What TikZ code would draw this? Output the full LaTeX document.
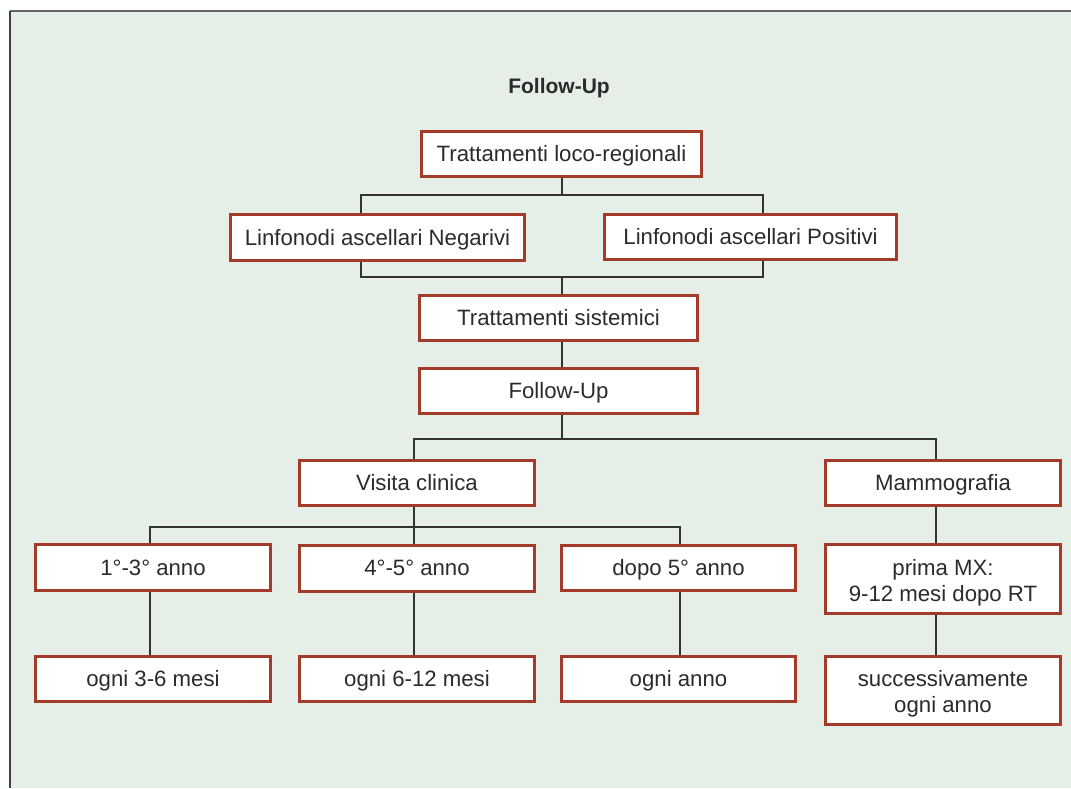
\documentclass[tikz,border=0pt]{standalone}
\usepackage{fontspec}
\setmainfont{Liberation Sans}
\usetikzlibrary{backgrounds}
\newcommand{\twolines}[2]{\smash{\raisebox{-9pt}{\begin{tabular}{@{}c@{}}#1\\#2\end{tabular}}}}
\begin{document}
\begin{tikzpicture}[x=1pt,y=-1pt,
  box/.style={draw=boxred, line width=3pt, fill=white, text=txt,
    inner sep=0pt, font=\fontsize{22.2}{26}\selectfont},
  one/.style={text height=17pt, text depth=2pt},
  link/.style={draw=linegrey, line width=1.4pt}]
\definecolor{boxred}{HTML}{A33B2B}
\definecolor{txt}{HTML}{2B2B2B}
\definecolor{linegrey}{HTML}{333333}
\definecolor{panel}{HTML}{E5EFE7}
\useasboundingbox (0,0) rectangle (1071,788);

\node[font=\bfseries\fontsize{21}{25}\selectfont, text=txt] (title) at (559,88) {Follow-Up};

% boxes
\node[box, one, minimum width=280pt, minimum height=45pt] (tlr) at (561.5,154) {Trattamenti loco-regionali};
\node[box, one, minimum width=294pt, minimum height=46pt] (neg) at (377.5,237.5) {Linfonodi ascellari Negarivi};
\node[box, one, minimum width=292pt, minimum height=45pt] (pos) at (750.5,237) {Linfonodi ascellari Positivi};
\node[box, one, minimum width=278pt, minimum height=45pt] (sis) at (558.5,318) {Trattamenti sistemici};
\node[box, one, minimum width=278pt, minimum height=45pt] (fu) at (558.5,391) {Follow-Up};
\node[box, one, minimum width=235pt, minimum height=45pt] (vis) at (417,482.5) {Visita clinica};
\node[box, one, minimum width=235pt, minimum height=45pt] (mam) at (943,483) {Mammografia};
\node[box, one, minimum width=235pt, minimum height=46pt] (y13) at (153,567.5) {1°-3° anno};
\node[box, one, minimum width=235pt, minimum height=46pt] (y45) at (417,568) {4°-5° anno};
\node[box, one, minimum width=234pt, minimum height=45pt] (y5) at (678.5,568) {dopo 5° anno};
\node[box, minimum width=235pt, minimum height=69pt] (mx) at (943,579) {\twolines{prima MX:}{9-12 mesi dopo RT}};
\node[box, one, minimum width=235pt, minimum height=45pt] (m36) at (153,679) {ogni 3-6 mesi};
\node[box, one, minimum width=235pt, minimum height=45pt] (m612) at (417,679) {ogni 6-12 mesi};
\node[box, one, minimum width=234pt, minimum height=45pt] (ann) at (678.5,679) {ogni anno};
\node[box, minimum width=235pt, minimum height=68pt] (suc) at (943,690.5) {\twolines{successivamente}{ogni anno}};

% rails of the connectors
\coordinate (sp) at (562,0);
\coordinate (topbar) at (0,195);
\coordinate (botbar) at (0,277);
\coordinate (bl) at (361,0);
\coordinate (br) at (763,0);
\coordinate (fubar) at (0,439);
\coordinate (vx) at (414,0);
\coordinate (mxx) at (936,0);
\coordinate (visbar) at (0,527);
\coordinate (c1) at (150,0);
\coordinate (c3) at (680,0);

\begin{pgfonlayer}{background}
% panel
\fill[white] (0,0) rectangle (1071,788);
\fill[panel] (10,11) rectangle (1071,788);
\draw[color=black!60, line width=2.5pt] (10,11) -- (1071,11);
\draw[color=black!75, line width=1.5pt] (10,11) -- (10,788);
% loco-regional treatment and its two branches
\draw[link] (tlr.south -| sp) -- (topbar -| sp);
\draw[link] (neg.north -| bl) |- (topbar -| br) -- (pos.north -| br);
\draw[link] (neg.south -| bl) |- (botbar -| br) -- (pos.south -| br);
\draw[link] (botbar -| sp) -- (sis.north -| sp);
\draw[link] (sis.south -| sp) -- (fu.north -| sp);
% follow-up
\draw[link] (fu.south -| sp) -- (fubar -| sp);
\draw[link] (vis.north -| vx) |- (fubar -| mxx) -- (mam.north -| mxx);
% clinical visits
\draw[link] (vis.south -| vx) -- (y45.north -| vx);
\draw[link] (y13.north -| c1) |- (visbar -| c3) -- (y5.north -| c3);
\draw[link] (y13.south -| c1) -- (m36.north -| c1);
\draw[link] (y45.south -| vx) -- (m612.north -| vx);
\draw[link] (y5.south -| c3) -- (ann.north -| c3);
% mammography
\draw[link] (mam.south -| mxx) -- (mx.north -| mxx);
\draw[link] (mx.south -| mxx) -- (suc.north -| mxx);
\end{pgfonlayer}
\end{tikzpicture}
\end{document}
